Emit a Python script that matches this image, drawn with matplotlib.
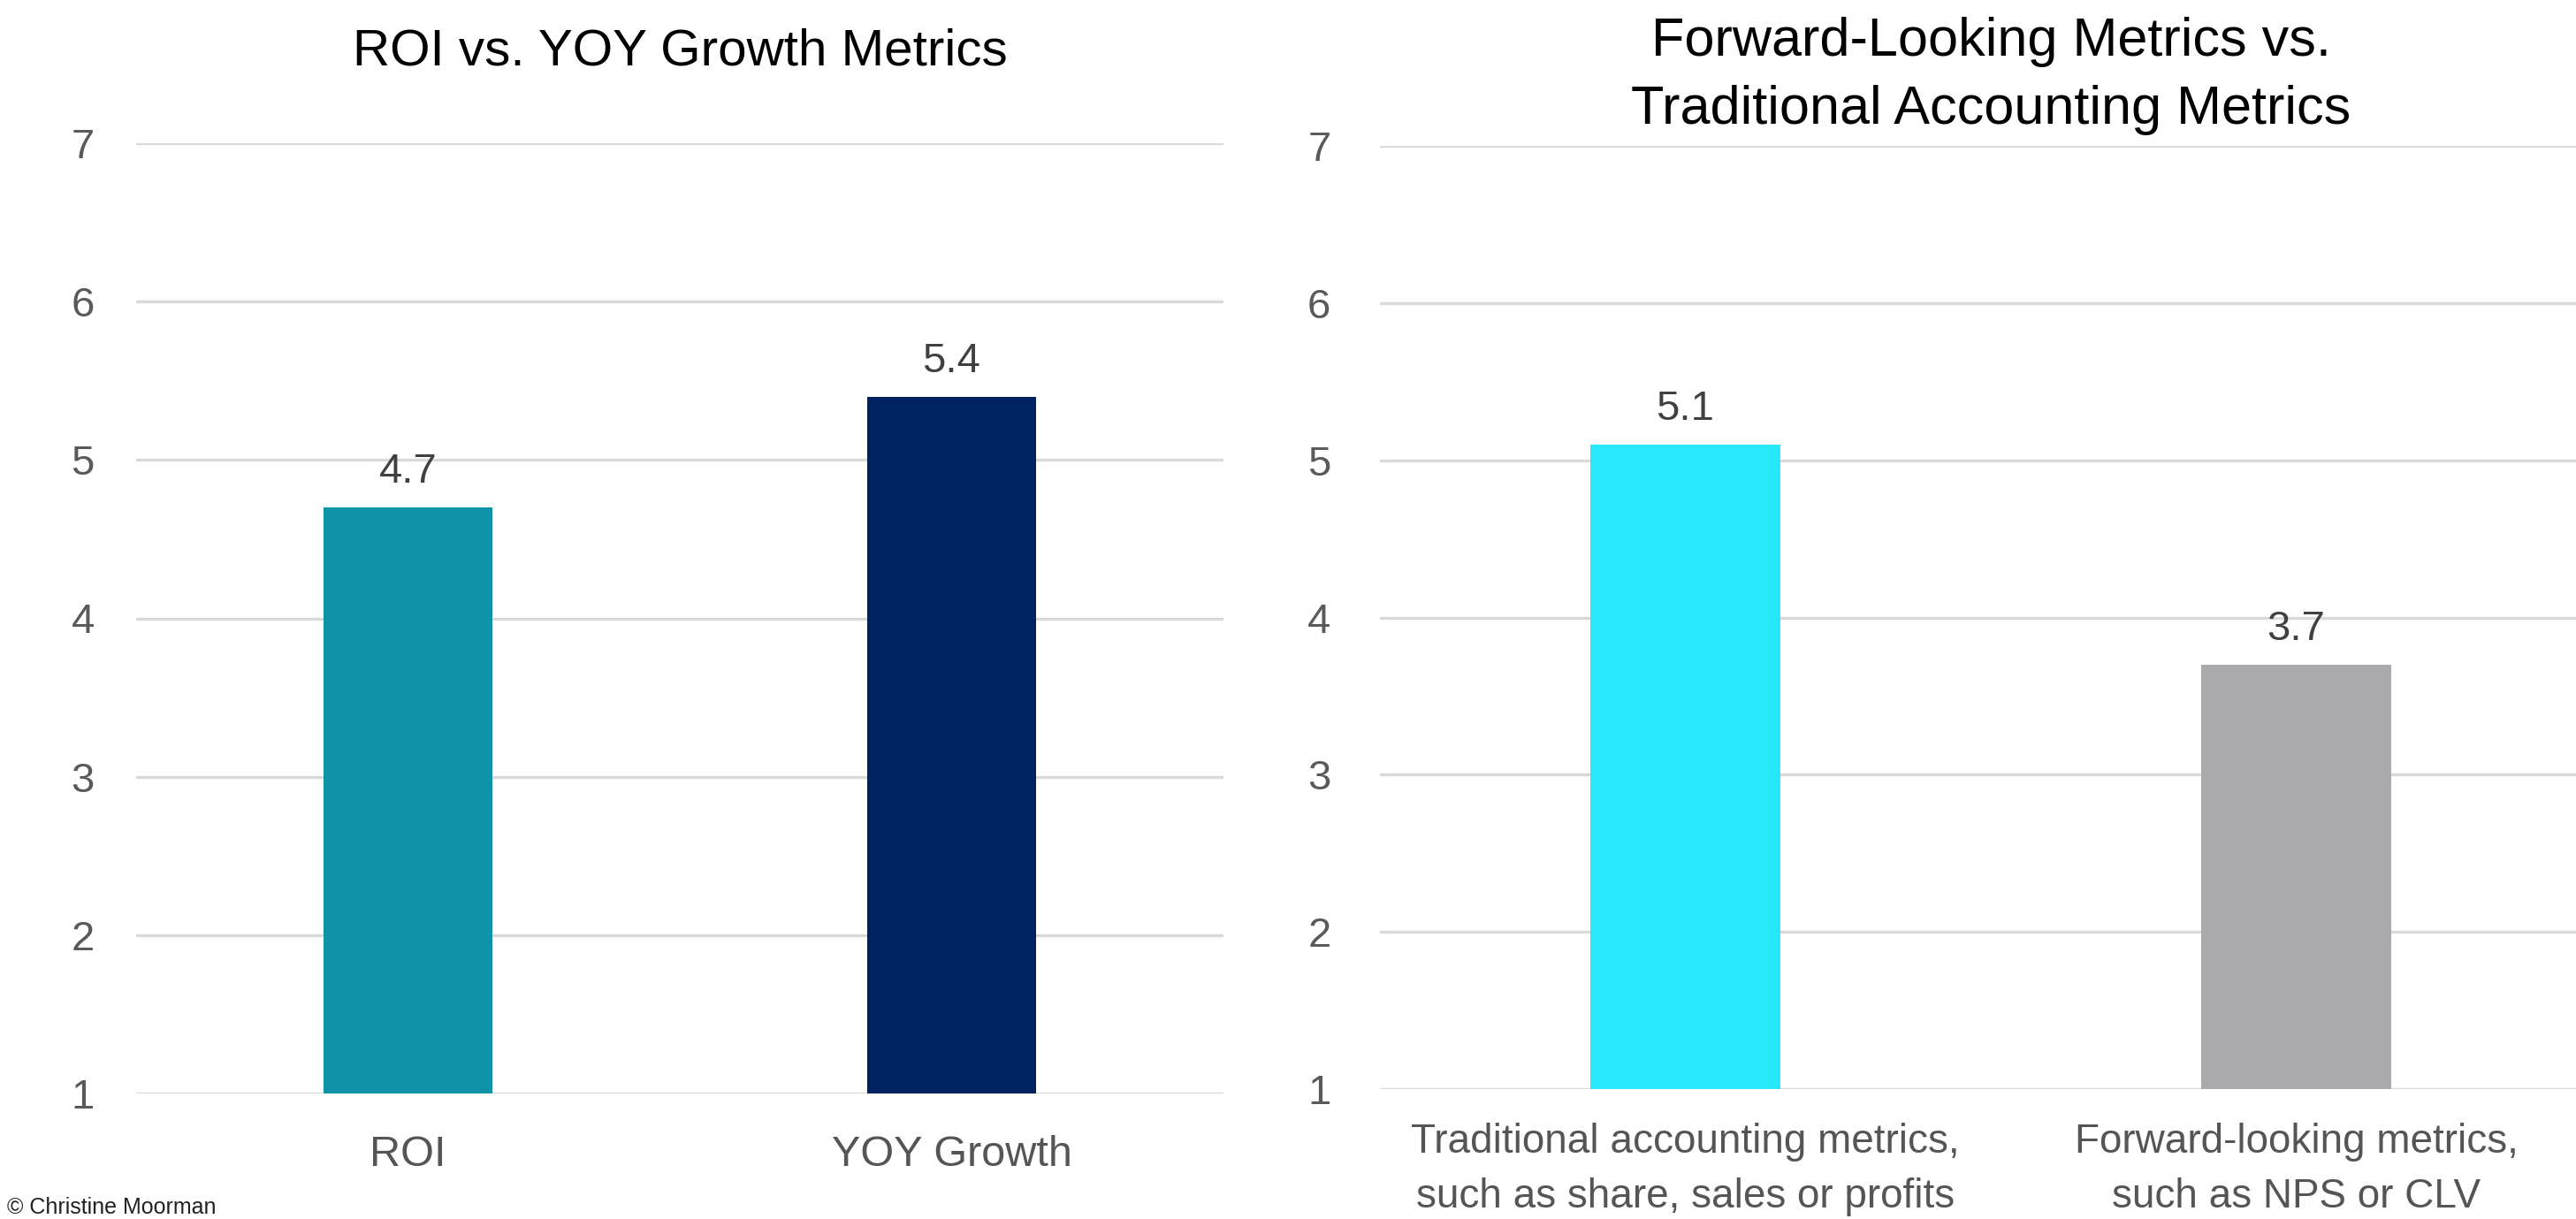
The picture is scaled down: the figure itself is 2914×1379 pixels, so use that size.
import matplotlib
matplotlib.use('Agg')
import matplotlib.pyplot as plt

# left chart
left_title = 'ROI vs. YOY Growth Metrics'
left_labels = ['ROI', 'YOY Growth']
left_values = [4.7, 5.4]
left_colors = ['#0E93A8', '#00215F']

# right chart
right_title = 'Forward-Looking Metrics vs.\nTraditional Accounting Metrics'
right_labels = ['Traditional accounting metrics,\nsuch as share, sales or profits',
                'Forward-looking metrics,\nsuch as NPS or CLV']
right_values = [5.1, 3.7]
right_colors = ['#26E8FA', '#AAA9AD']

y_ticks = [1, 2, 3, 4, 5, 6, 7]

plt.rcParams['font.family'] = ['Liberation Sans', 'DejaVu Sans']

W, H = 2914, 1379
fig = plt.figure(figsize=(W / 100, H / 100), dpi=100)

ax1 = fig.add_axes([154 / W, 1 - 1237 / H, 1230 / W, 1075 / H])
ax2 = fig.add_axes([1561 / W, 1 - 1232 / H, 1382 / W, 1067 / H])


def draw_panel(ax, labels, values, colors, label_size, label_pad, tick_pad):
    x = list(range(len(values)))
    bars = ax.bar(x, values, width=0.31, color=colors, zorder=3)
    ax.bar_label(bars, labels=['%.1f' % v for v in values], padding=13,
                 fontsize=34, color='#404040')
    ax.set_ylim(1, 7)
    ax.set_xlim(-0.5, 1.5)
    ax.set_yticks(y_ticks)
    ax.set_xticks(x)
    ax.set_xticklabels(labels, fontsize=label_size, color='#555555', linespacing=1.55)
    ax.tick_params(axis='x', length=0, pad=label_pad)
    ax.tick_params(axis='y', length=0, pad=tick_pad, labelsize=34, labelcolor='#5a5a5a')
    for lbl in ax.get_yticklabels():
        lbl.set_horizontalalignment('right')
    ax.yaxis.grid(True, color='#D9D9D9', linewidth=2.4)
    ax.set_axisbelow(True)
    for s in ax.spines.values():
        s.set_visible(False)


draw_panel(ax1, left_labels, left_values, left_colors, 35, 34, 34)
draw_panel(ax2, right_labels, right_values, right_colors, 33, 27, 40)

fig.text(769 / W, 1 - 59 / H, left_title, ha='center', va='center', fontsize=42, color='black')
fig.text(2252 / W, 1 - 86 / H, right_title, ha='center', va='center', fontsize=44,
         color='black', linespacing=1.45)

fig.text(8 / W, 1 - 1366 / H, '\u00a9 Christine Moorman', ha='left', va='center',
         fontsize=18, color='#222222')

fig.savefig('out.png', dpi=100, facecolor='white')
